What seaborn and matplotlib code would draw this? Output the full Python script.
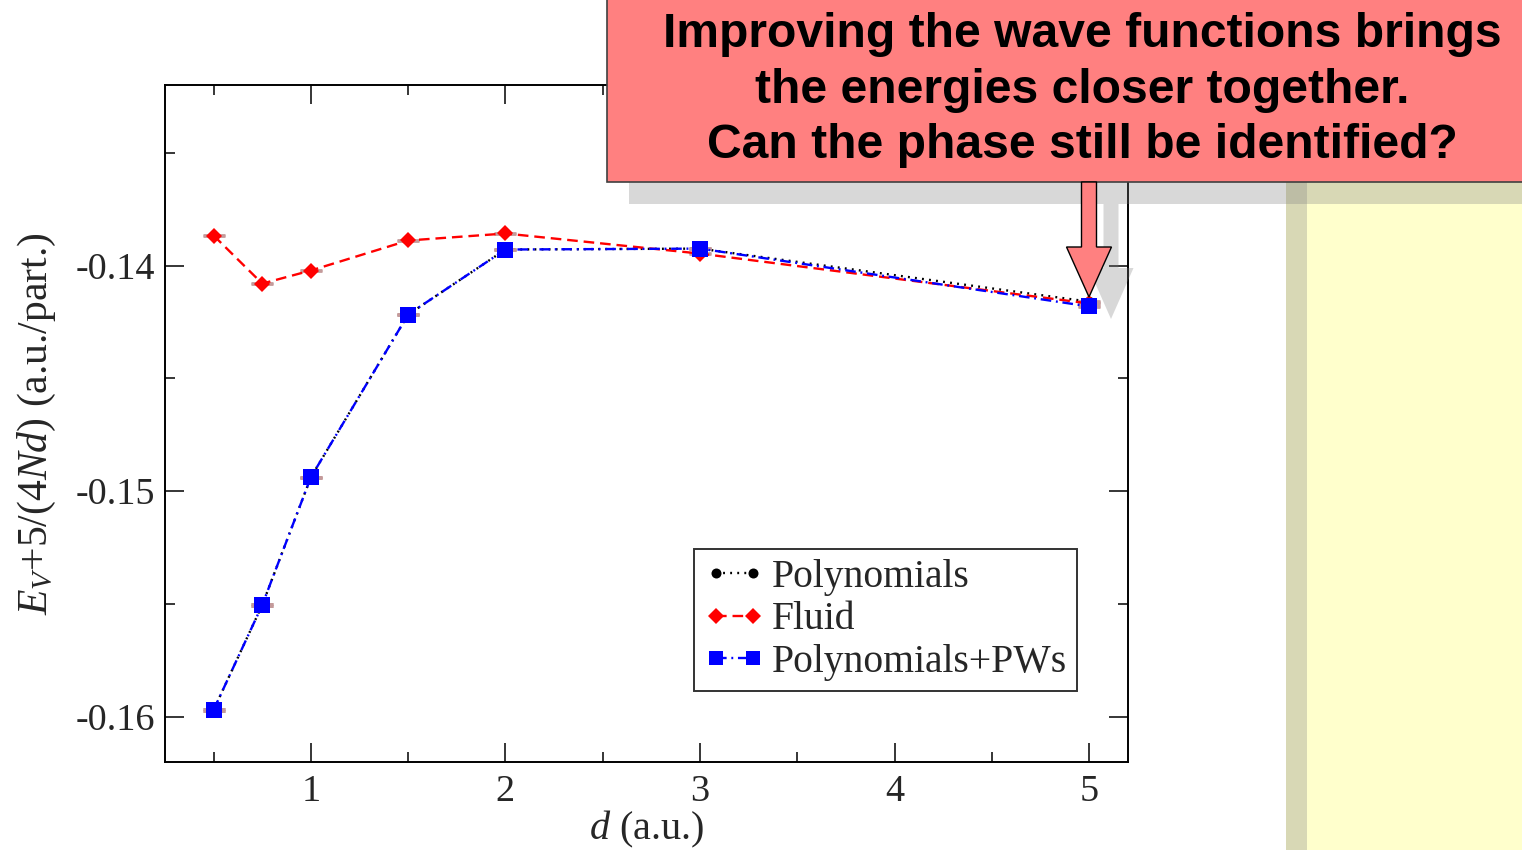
import numpy as np
import pandas as pd
import matplotlib
matplotlib.use("Agg")
import matplotlib.pyplot as plt
import seaborn as sns
from matplotlib.patches import Rectangle, Polygon
from matplotlib.lines import Line2D

# data
d_vals = [0.5, 0.75, 1.0, 1.5, 2.0, 3.0, 5.0]
poly_vals = [-0.15969, -0.15504, -0.14938, -0.14217, -0.13929, -0.13925, -0.14160]
fluid_vals = [-0.13867, -0.14080, -0.14022, -0.13889, -0.13858, -0.13947, -0.14168]
pws_vals = [-0.15969, -0.15504, -0.14938, -0.14217, -0.13929, -0.13925, -0.14181]
err_vals = [0.00003] * 7

series_names = ["Polynomials", "Fluid", "Polynomials+PWs"]
callout_lines = ["Improving the wave functions brings",
                 "the energies closer together.",
                 "Can the phase still be identified?"]

sns.set_style("white")
plt.rcParams["font.family"] = ["Liberation Serif", "DejaVu Serif"]
plt.rcParams["mathtext.fontset"] = "custom"
plt.rcParams["mathtext.rm"] = "Liberation Serif"
plt.rcParams["mathtext.it"] = "Liberation Serif:italic"
plt.rcParams["axes.unicode_minus"] = False

fig = plt.figure(figsize=(15.22, 8.5), dpi=100)
ax = fig.add_axes([0.1084, 0.1035, 0.6327, 0.7965])

styles = {
    "Polynomials": dict(vals=poly_vals, color="black", marker="o", ms=8, ls=(0, (0.8, 2.2))),
    "Fluid": dict(vals=fluid_vals, color="#ff0000", marker="D", ms=8.5, ls=(0, (4.5, 2.5))),
    "Polynomials+PWs": dict(vals=pws_vals, color="#0000ff", marker="s", ms=11.5, ls=(0, (4.5, 2, 0.8, 2))),
}

handles = []
for i, name in enumerate(series_names):
    st = styles[name]
    ax.errorbar(d_vals, st["vals"], yerr=err_vals, fmt="none", ecolor="#c49a9a",
                elinewidth=1, capsize=8, capthick=2, zorder=1 + i * 2)
    sns.lineplot(x=d_vals, y=st["vals"], color=st["color"], marker=st["marker"],
                 markersize=st["ms"], markeredgecolor=st["color"], markeredgewidth=0,
                 linewidth=1.7, linestyle=st["ls"], sort=False, ax=ax, zorder=2 + i * 2)
    handles.append(Line2D([], [], color=st["color"], marker=st["marker"],
                          markersize=st["ms"] * 0.9, markeredgewidth=0,
                          linewidth=1.7, linestyle=st["ls"]))

ax.set_xlim(0.25, 5.2)
ax.set_ylim(-0.162, -0.132)
ax.set_xticks([1, 2, 3, 4, 5])
ax.set_xticks([0.5, 1.5, 2.5, 3.5, 4.5], minor=True)
ax.set_yticks([-0.16, -0.15, -0.14])
ax.set_yticks([-0.155, -0.145, -0.135], minor=True)
ax.set_yticklabels(["-0.16", "-0.15", "-0.14"])
ax.tick_params(which="both", direction="in", top=True, right=True, bottom=True, left=True,
               labelsize=27.5, width=1.1, color="black")
ax.tick_params(which="major", length=14)
ax.tick_params(which="minor", length=7)
ax.tick_params(axis="y", pad=7)
ax.tick_params(axis="x", pad=9)
for sp in ax.spines.values():
    sp.set_linewidth(1.4)
    sp.set_color("black")

ax.set_xlabel("$\\it{d}$ (a.u.)", fontsize=29, labelpad=0)
ax.set_ylabel("$E_V$+5/(4$Nd$) (a.u./part.)", fontsize=30, labelpad=13)

leg = ax.legend(handles, series_names, loc="upper left", bbox_to_anchor=(0.5493, 0.3146),
                borderaxespad=0, fontsize=28.5, numpoints=2, handlelength=1.53,
                handletextpad=0.2, labelspacing=0.14, borderpad=0.25,
                fancybox=False, frameon=True)
leg.get_frame().set_edgecolor("black")
leg.get_frame().set_linewidth(1.4)

# slide decorations, in pixel coordinates
ov = fig.add_axes([0, 0, 1, 1], zorder=10)
ov.set_xlim(0, 1522)
ov.set_ylim(850, 0)
ov.axis("off")
ov.patch.set_alpha(0)

ov.add_patch(Rectangle((1286, 182), 240, 670, facecolor="#ffffcc", edgecolor="none", zorder=1))
ov.add_patch(Rectangle((1286, 182), 21, 670, facecolor="#808080", alpha=0.3, edgecolor="none", zorder=2))
ov.add_patch(Rectangle((629, 182), 900, 22, facecolor="#808080", alpha=0.3, edgecolor="none", zorder=3))

def arrow_pts(cx, y0, y1, y2, shaft_w, head_w):
    return [(cx - shaft_w / 2, y0), (cx + shaft_w / 2, y0), (cx + shaft_w / 2, y1),
            (cx + head_w / 2, y1), (cx, y2), (cx - head_w / 2, y1), (cx - shaft_w / 2, y1)]

ov.add_patch(Polygon(arrow_pts(1111, 204, 268, 319, 15, 45), closed=True,
                     facecolor="#808080", alpha=0.3, edgecolor="none", zorder=3))
ov.add_patch(Rectangle((607, -5), 930, 187, facecolor="#ff8080", edgecolor="#404040",
                       linewidth=1.2, zorder=4))
ov.add_patch(Polygon(arrow_pts(1089, 182, 247, 297, 15, 45), closed=True,
                     facecolor="#ff8080", edgecolor="black", linewidth=1.0, zorder=5))

for yb, line in zip([47, 103, 158], callout_lines):
    ov.text(1082, yb, line, ha="center", va="baseline", fontsize=34.6, fontweight="bold",
            family=["Liberation Sans", "DejaVu Sans"], color="black", zorder=6)

fig.savefig("out.png", dpi=100)
